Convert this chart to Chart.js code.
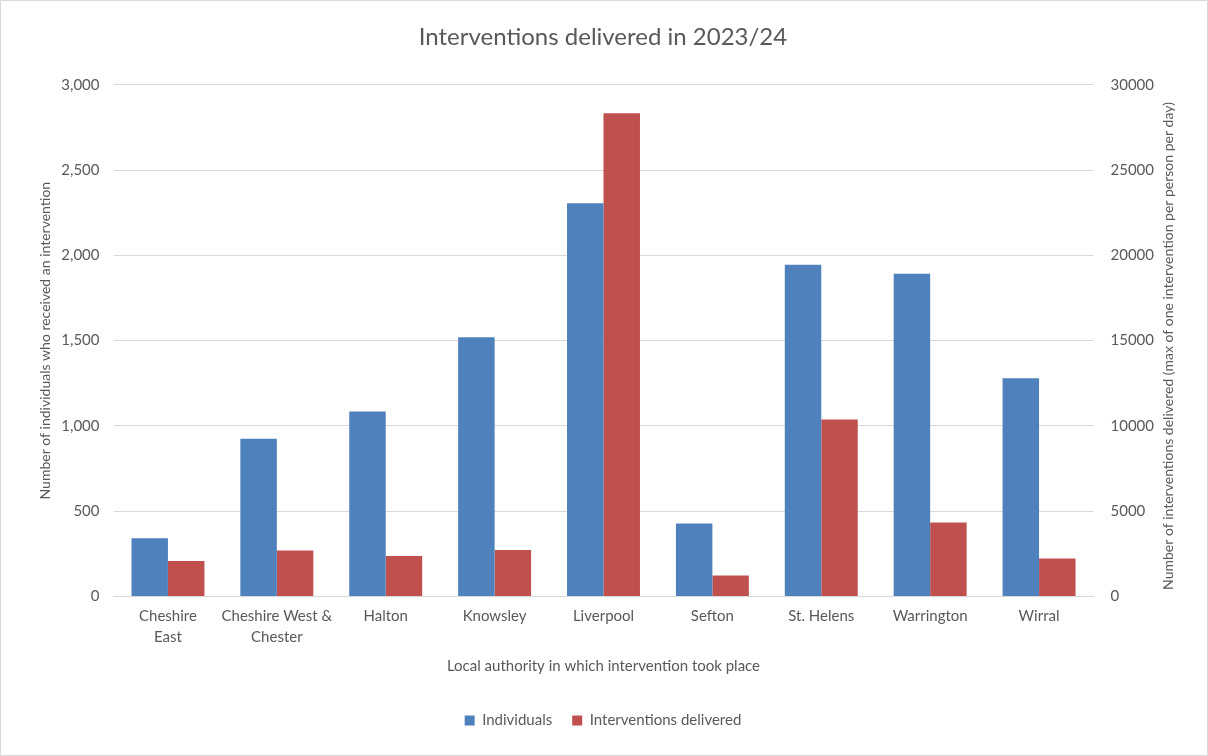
<!DOCTYPE html>
<html>
<head>
<meta charset="utf-8">
<script src="https://cdn.jsdelivr.net/npm/chart.js@4"></script>
<style>
  html, body { margin: 0; padding: 0; background: #fff; }
  #wrap { position: relative; width: 1206px; height: 754px; border: 1px solid #d9d9d9; }
</style>
</head>
<body>
<div id="wrap"><canvas id="chart" width="1206" height="754"></canvas></div>
<script>
const categories = [['Cheshire', 'East'], ['Cheshire West &', 'Chester'], 'Halton', 'Knowsley', 'Liverpool', 'Sefton', 'St. Helens', 'Warrington', 'Wirral'];
const individuals = [341, 925, 1084, 1520, 2306, 428, 1945, 1892, 1279];
const interventions = [2077, 2702, 2372, 2726, 28330, 1227, 10371, 4336, 2230];

const grey = '#595959';
const font = 'Lato, "Open Sans", sans-serif';

// right hand axis title reads bottom-to-top, so draw it ourselves
const rightTitle = {
    id: 'rightTitle',
    afterDraw(chart) {
        const c = chart.ctx;
        c.save();
        c.translate(1167, 345);
        c.rotate(-Math.PI / 2);
        c.font = '14px ' + font;
        c.fillStyle = grey;
        c.textAlign = 'center';
        c.textBaseline = 'middle';
        c.fillText('Number of interventions delivered (max of one intervention per person per day)', 0, 0);
        c.restore();
    }
};

new Chart(document.getElementById('chart'), {
    type: 'bar',
    data: {
        labels: categories,
        datasets: [{
            label: 'Individuals',
            data: individuals,
            backgroundColor: '#4f81bd',
            yAxisID: 'y'
        }, {
            label: 'Interventions delivered',
            data: interventions,
            backgroundColor: '#c0504d',
            yAxisID: 'y1'
        }]
    },
    options: {
        responsive: false,
        animation: false,
        categoryPercentage: 0.67,
        barPercentage: 1.0,
        layout: { padding: { top: 18, left: 8, right: 10, bottom: 17 } },
        scales: {
            x: {
                grid: { display: false, drawTicks: false },
                border: { color: '#d9d9d9' },
                ticks: { color: grey, font: { family: font, size: 15, lineHeight: 1.35 }, padding: 10, maxRotation: 0, autoSkip: false },
                title: {
                    display: true,
                    text: 'Local authority in which intervention took place',
                    color: grey,
                    font: { family: font, size: 15 },
                    padding: { top: 0, bottom: 18 }
                }
            },
            y: {
                position: 'left',
                min: 0, max: 3000,
                ticks: {
                    stepSize: 500, color: grey, padding: 14,
                    font: { family: font, size: 15 },
                    callback: v => v.toLocaleString('en-GB')
                },
                grid: { color: '#d9d9d9', drawTicks: false },
                border: { display: false },
                title: {
                    display: true,
                    text: 'Number of individuals who received an intervention',
                    color: grey,
                    font: { family: font, size: 14 },
                    padding: { top: 28, bottom: 0 }
                },
                afterFit(scale) { scale.width = 104.5; }
            },
            y1: {
                position: 'right',
                min: 0, max: 30000,
                ticks: { stepSize: 5000, color: grey, padding: 17, font: { family: font, size: 15 }, callback: v => String(v) },
                grid: { drawOnChartArea: false, drawTicks: false },
                border: { display: false },
                afterFit(scale) { scale.width = 103.5; }
            }
        },
        plugins: {
            title: {
                display: true,
                text: 'Interventions delivered in 2023/24',
                color: grey,
                font: { family: font, size: 24, weight: 'normal' },
                padding: { top: 4, bottom: 33 }
            },
            legend: {
                position: 'bottom',
                labels: { color: grey, font: { family: font, size: 15 }, boxWidth: 10, boxHeight: 10, padding: 20 }
            },
            tooltip: { enabled: false }
        }
    },
    plugins: [rightTitle]
});
</script>
</body>
</html>
